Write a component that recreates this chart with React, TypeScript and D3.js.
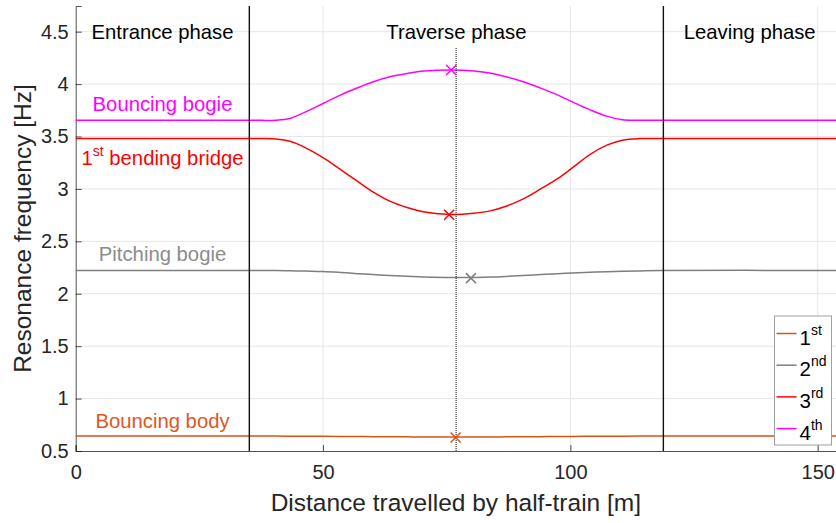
import React, { useEffect, useRef } from "react";
import * as d3 from "d3";

// distance travelled by the half-train [m]
const distance = [0, 35, 40.5, 43.5, 46.5, 50, 53.5, 57, 60, 63.5, 67, 70.5, 76, 80.5, 84, 87, 90.5, 94, 97.5, 100.5, 104, 107.5, 110.5, 114, 118.5, 154];

// resonance frequencies [Hz]
const mode1 = [0.642, 0.642, 0.642, 0.641, 0.641, 0.64, 0.639, 0.638, 0.637, 0.636, 0.635, 0.634, 0.633, 0.633, 0.634, 0.635, 0.636, 0.637, 0.638, 0.639, 0.64, 0.641, 0.641, 0.642, 0.642, 0.642];
const mode2 = [2.222, 2.222, 2.221, 2.219, 2.216, 2.212, 2.203, 2.192, 2.183, 2.174, 2.166, 2.16, 2.155, 2.156, 2.159, 2.165, 2.174, 2.183, 2.191, 2.198, 2.205, 2.21, 2.214, 2.218, 2.222, 2.222];
const mode3 = [3.48, 3.48, 3.477, 3.452, 3.392, 3.298, 3.186, 3.072, 2.975, 2.884, 2.823, 2.78, 2.755, 2.768, 2.793, 2.835, 2.905, 3.0, 3.1, 3.205, 3.33, 3.42, 3.465, 3.48, 3.48, 3.48];
const mode4 = [3.655, 3.655, 3.656, 3.675, 3.735, 3.815, 3.895, 3.965, 4.02, 4.07, 4.102, 4.125, 4.135, 4.125, 4.103, 4.071, 4.023, 3.962, 3.895, 3.828, 3.754, 3.692, 3.66, 3.655, 3.655, 3.655];

// extreme values (x markers)
const peakDistance = [76.8, 79.9, 75.5, 75.9];
const peakFreq = [0.628, 2.149, 2.753, 4.135];

const legendNum = ["1", "2", "3", "4"];
const legendSup = ["st", "nd", "rd", "th"];
const modeLabels = ["Bouncing body", "Pitching bogie", "bending bridge", "Bouncing bogie"];
const modeLabelFreq = [0.722, 2.314, 3.229, 3.744];

const phaseNames = ["Entrance phase", "Traverse phase", "Leaving phase"];
const phaseBounds = [35.1, 118.8];
const midDistance = 76.9;
const midTop = 4.345;

const xTicks = [0, 50, 100, 150];
const yTicks = [0.5, 1, 1.5, 2, 2.5, 3, 3.5, 4, 4.5];

const colors = ["#D95319", "#7F7F7F", "#FF0000", "#FF00FF"];
const labelColors = ["#E0561E", "#8C8C8C", "#FF0000", "#FF00FF"];

const FONT = "'Liberation Sans', Arial, Helvetica, sans-serif";

const App = () => {
  const svgRef = useRef<SVGSVGElement>(null);
  const width = 836;
  const height = 523;
  const margin = { top: 6, right: 0, bottom: 72, left: 75.7 };
  const xMax = 153.7;

  useEffect(() => {
    const svg = d3.select(svgRef.current);
    svg.selectAll("*").remove();

    const x = d3.scaleLinear().domain([0, xMax]).range([margin.left, width - margin.right]);
    const y = d3.scaleLinear().domain([0.5, 4.745]).range([height - margin.bottom, margin.top]);
    const y0 = y.range()[0];
    const y1 = y.range()[1];

    const g = svg.append("g").style("font-family", FONT);

    // grid
    g.append("g")
      .selectAll("line")
      .data(xTicks.filter((d) => d > 0))
      .enter()
      .append("line")
      .attr("x1", (d) => x(d))
      .attr("x2", (d) => x(d))
      .attr("y1", y1)
      .attr("y2", y0)
      .attr("stroke", "#E6E6E6")
      .attr("stroke-width", 1);
    g.append("g")
      .selectAll("line")
      .data(yTicks.filter((d) => d > 0.5))
      .enter()
      .append("line")
      .attr("x1", x(0))
      .attr("x2", width)
      .attr("y1", (d) => y(d))
      .attr("y2", (d) => y(d))
      .attr("stroke", "#E6E6E6")
      .attr("stroke-width", 1);

    // axes
    const xAxis = d3
      .axisBottom(x)
      .tickValues(xTicks)
      .tickSize(-6)
      .tickPadding(14)
      .tickFormat((d) => String(d));
    const gx = g.append("g").attr("transform", `translate(0,${y0})`).call(xAxis);
    gx.select(".domain").attr("stroke", "#262626").attr("stroke-width", 0.8);
    gx.selectAll(".tick line").attr("stroke", "#262626").attr("stroke-width", 0.8);
    gx.selectAll(".tick text").attr("fill", "#262626").style("font-size", "20px").style("font-family", FONT);

    const yAxis = d3
      .axisLeft(y)
      .tickValues(yTicks)
      .tickSize(-6)
      .tickPadding(7)
      .tickFormat((d) => String(d));
    const gy = g.append("g").attr("transform", `translate(${x(0)},0)`).call(yAxis);
    gy.select(".domain").attr("stroke", "#262626").attr("stroke-width", 0.8);
    gy.selectAll(".tick line").attr("stroke", "#262626").attr("stroke-width", 0.8);
    gy.selectAll(".tick text").attr("fill", "#262626").style("font-size", "20px").style("font-family", FONT);

    // curves
    const series = [mode1, mode2, mode3, mode4];
    const line = d3
      .line<number>()
      .x((_, i) => x(distance[i]))
      .y((d) => y(d))
      .curve(d3.curveCatmullRom.alpha(0.5));
    series.forEach((s, k) => {
      g.append("path")
        .attr("d", line(s))
        .attr("fill", "none")
        .attr("stroke", colors[k])
        .attr("stroke-width", 1.5);
    });

    // phase boundaries
    g.selectAll(".phase")
      .data(phaseBounds)
      .enter()
      .append("line")
      .attr("class", "phase")
      .attr("x1", (d) => x(d))
      .attr("x2", (d) => x(d))
      .attr("y1", y1)
      .attr("y2", y0)
      .attr("stroke", "#111")
      .attr("stroke-width", 1.4);

    // middle dotted line
    g.append("line")
      .attr("x1", x(midDistance))
      .attr("x2", x(midDistance))
      .attr("y1", y(midTop))
      .attr("y2", y0)
      .attr("stroke", "#000")
      .attr("stroke-width", 1)
      .attr("stroke-dasharray", "1,1");

    // x markers
    const m = 5;
    peakDistance.forEach((d, k) => {
      const cx = x(d);
      const cy = y(peakFreq[k]);
      g.append("path")
        .attr("d", `M${cx - m},${cy - m}L${cx + m},${cy + m}M${cx - m},${cy + m}L${cx + m},${cy - m}`)
        .attr("stroke", colors[k])
        .attr("stroke-width", 1.5);
    });

    // phase labels
    const phaseMids = [
      (0 + phaseBounds[0]) / 2,
      (phaseBounds[0] + phaseBounds[1]) / 2,
      (phaseBounds[1] + xMax) / 2,
    ];
    g.selectAll(".phase-label")
      .data(phaseNames)
      .enter()
      .append("text")
      .attr("class", "phase-label")
      .attr("x", (_, i) => x(phaseMids[i]))
      .attr("y", y(4.5) + 7.5)
      .attr("text-anchor", "middle")
      .attr("fill", "#000")
      .style("font-size", "20.3px")
      .text((d) => d);

    // mode labels
    modeLabels.forEach((name, k) => {
      const t = g
        .append("text")
        .attr("x", x(phaseMids[0]))
        .attr("y", y(modeLabelFreq[k]))
        .attr("text-anchor", "middle")
        .attr("fill", labelColors[k])
        .style("font-size", "20.3px");
      if (k === 2) {
        t.append("tspan").text("1");
        t.append("tspan").attr("dy", -9).style("font-size", "14px").text("st");
        t.append("tspan").attr("dy", 9).text(" " + name);
      } else {
        t.text(name);
      }
    });

    // legend
    const lg = g.append("g").attr("transform", "translate(774.5,316)");
    lg.append("rect")
      .attr("width", 57)
      .attr("height", 129)
      .attr("fill", "#fff")
      .attr("stroke", "#A0A0A0")
      .attr("stroke-width", 1);
    legendNum.forEach((n, k) => {
      const ly = 17.5 + k * 31.7;
      lg.append("line")
        .attr("x1", 2)
        .attr("x2", 22)
        .attr("y1", ly)
        .attr("y2", ly)
        .attr("stroke", colors[k])
        .attr("stroke-width", 1.5);
      const t = lg
        .append("text")
        .attr("x", 25)
        .attr("y", ly + 11)
        .attr("fill", "#000")
        .style("font-size", "20.5px");
      t.append("tspan").text(n);
      t.append("tspan").attr("dy", -10).style("font-size", "14px").text(legendSup[k]);
    });

    // axis titles
    g.append("text")
      .attr("x", (x(0) + width) / 2)
      .attr("y", 511)
      .attr("text-anchor", "middle")
      .attr("fill", "#262626")
      .style("font-size", "24.5px")
      .text("Distance travelled by half-train [m]");
    g.append("text")
      .attr("transform", `translate(31,${(y0 + y1) / 2}) rotate(-90)`)
      .attr("text-anchor", "middle")
      .attr("fill", "#262626")
      .style("font-size", "24.5px")
      .text("Resonance frequency [Hz]");
  }, []);

  return (
    <svg
      ref={svgRef}
      width={width}
      height={height}
      style={{ position: "absolute", left: 0, top: 0, background: "#fff" }}
    ></svg>
  );
};

export default App;
